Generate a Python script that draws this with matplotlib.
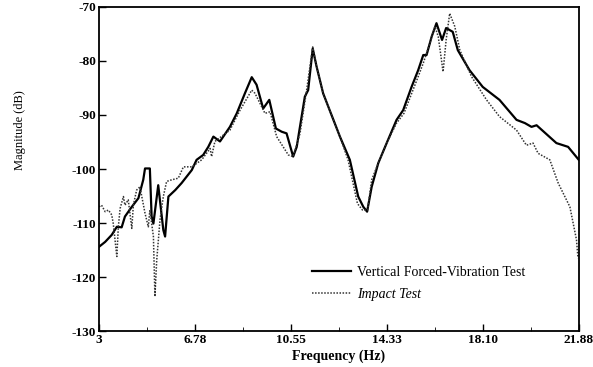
import numpy as np
import matplotlib.pyplot as plt

plt.rcParams['font.family'] = ['Liberation Serif', 'DejaVu Serif']
plt.rcParams['axes.unicode_minus'] = False

# Vertical forced-vibration test
vib_freq = [3.0, 3.24, 3.5, 3.70, 3.89, 4.02, 4.29, 4.55, 4.74, 4.81, 5.0, 5.07, 5.14,
            5.33, 5.53, 5.6, 5.73, 6.0, 6.25, 6.65, 6.84, 7.10, 7.30, 7.50, 7.76, 8.15,
            8.42, 8.74, 9.01, 9.20, 9.46, 9.70, 9.96, 10.19, 10.38, 10.64, 10.78, 11.10,
            11.23, 11.41, 11.56, 11.82, 12.15, 12.48, 12.87, 13.20, 13.40, 13.55, 13.73,
            13.99, 14.32, 14.71, 14.97, 15.30, 15.56, 15.76, 15.89, 16.09, 16.28, 16.50,
            16.66, 16.92, 17.12, 17.58, 18.10, 18.76, 19.43, 19.76, 20.02, 20.22, 21.0,
            21.46, 21.88]
vib_db = [-114.4, -113.5, -112.2, -110.7, -110.8, -108.8, -107.0, -105.4, -102.0, -99.9,
          -99.9, -108.8, -110.1, -103.0, -111.3, -112.5, -105.1, -103.9, -102.6, -100.2,
          -98.3, -97.4, -95.9, -94.0, -94.9, -92.2, -89.7, -86.0, -83.0, -84.4, -88.8,
          -87.2, -92.5, -93.1, -93.4, -97.7, -95.9, -86.6, -85.4, -77.7, -81.0, -86.0,
          -90.0, -94.0, -98.3, -105.1, -107.0, -107.9, -103.3, -98.9, -95.2, -90.9,
          -89.1, -84.8, -81.7, -78.9, -78.9, -75.5, -73.0, -76.1, -73.9, -74.6, -78.0,
          -81.7, -84.8, -87.2, -90.9, -91.5, -92.2, -91.9, -95.2, -95.9, -98.3]

# Impact test
imp_freq = [3.0, 3.1, 3.24, 3.37, 3.5, 3.56, 3.70, 3.76, 3.83, 3.96, 4.02, 4.15, 4.29,
            4.35, 4.48, 4.61, 4.81, 4.94, 5.0, 5.14, 5.2, 5.27, 5.4, 5.53, 5.66, 5.86,
            6.12, 6.32, 6.65, 7.04, 7.37, 7.43, 7.56, 8.15, 8.55, 9.01, 9.14, 9.53, 9.73,
            9.99, 10.45, 10.64, 10.91, 11.17, 11.41, 11.56, 11.82, 12.15, 12.48, 12.80,
            13.17, 13.37, 13.57, 13.73, 13.99, 14.32, 14.71, 15.0, 15.56, 15.76, 16.02,
            16.22, 16.35, 16.54, 16.66, 16.80, 17.0, 17.20, 17.66, 18.25, 18.76, 19.43,
            19.82, 20.08, 20.28, 20.74, 21.07, 21.53, 21.79, 21.85]
imp_db = [-107.0, -106.7, -107.9, -107.6, -108.5, -110.1, -116.2, -110.7, -107.3, -105.1,
          -106.7, -105.7, -111.0, -106.7, -103.9, -103.3, -108.2, -110.7, -107.6, -112.5,
          -123.6, -116.9, -109.4, -105.1, -102.3, -102.0, -101.7, -99.6, -99.6, -98.3,
          -96.2, -97.7, -94.9, -92.8, -89.1, -85.4, -86.0, -89.7, -89.4, -94.0, -97.4,
          -97.7, -93.4, -85.4, -77.4, -81.0, -86.0, -90.0, -94.0, -98.3, -106.4, -107.6,
          -107.6, -102.0, -98.9, -95.2, -91.5, -89.7, -82.9, -80.4, -76.7, -73.6, -75.5,
          -82.0, -76.1, -71.2, -73.6, -78.0, -82.9, -87.2, -90.3, -92.8, -95.6, -95.2,
          -97.1, -98.3, -102.6, -107.0, -113.1, -116.5]

xticks = [3, 6.78, 10.55, 14.33, 18.10, 21.88]
xticklabels = ['3', '6.78', '10.55', '14.33', '18.10', '21.88']
yticks = [-130, -120, -110, -100, -90, -80, -70]

fig = plt.figure(figsize=(5.93, 3.67), dpi=100)
ax = fig.add_axes([0.167, 0.098, 0.809, 0.883])

ax.plot(vib_freq, vib_db, color='black', lw=1.6, label='Vertical Forced-Vibration Test')
ax.plot(imp_freq, imp_db, color='#333333', lw=1.1, linestyle=(0, (1, 1)), label='Impact Test')

ax.set_xlim(3, 21.88)
ax.set_ylim(-130, -70)
ax.set_xticks(xticks)
ax.set_xticklabels(xticklabels)
ax.set_xticks([(a + b) / 2 for a, b in zip(xticks[:-1], xticks[1:])], minor=True)
ax.set_yticks(yticks)
ax.tick_params(direction='in', length=5, width=1, labelsize=9.5, pad=2)
ax.tick_params(which='minor', direction='in', length=3)
for lab in ax.get_xticklabels() + ax.get_yticklabels():
    lab.set_fontweight('bold')
for sp in ax.spines.values():
    sp.set_linewidth(1.3)

ax.set_xlabel('Frequency (Hz)', fontsize=10, fontweight='bold', labelpad=3)
ax.set_ylabel('Magnitude (dB)', fontsize=9)
ax.yaxis.set_label_coords(-0.152, 0.62)

leg = ax.legend(loc='lower left', bbox_to_anchor=(0.418, 0.055), frameon=False,
                fontsize=10, handlelength=2.8, handletextpad=0.45, labelspacing=0.65)
leg.get_texts()[1].set_fontstyle('italic')

fig.savefig('out.png', dpi=100)
